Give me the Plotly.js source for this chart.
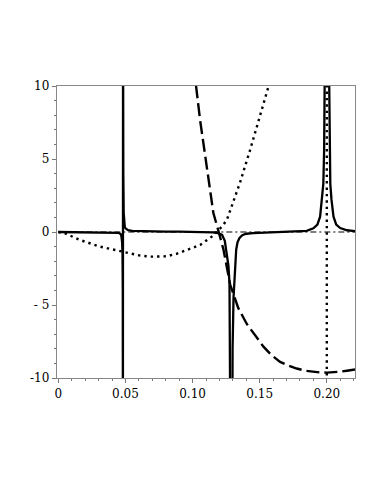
<!DOCTYPE html>
<html>
<head>
<meta charset="utf-8">
<script src="https://cdn.plot.ly/plotly-3.0.1.min.js"></script>
<style>
html,body{margin:0;padding:0;background:#fff;}
#chart{width:382px;height:494px;}
</style>
</head>
<body>
<div id="chart"></div>
<script>
// Solid curve (three poles)
const solidX = [
  0, 0.01, 0.02, 0.03, 0.04, 0.045, 0.0465, 0.047, 0.0475, 0.0478, 0.048, 0.0481,
  0.0482, 0.0484, 0.0487, 0.049, 0.0495, 0.05, 0.052, 0.055, 0.06, 0.07, 0.08, 0.09, 0.1, 0.11, 0.115, 0.119, 0.122, 0.124, 0.1255, 0.1267, 0.1275, 0.1279, 0.1282, null,
  0.1296, 0.1298, 0.1305, 0.1311, 0.1318, 0.1325, 0.1335, 0.135, 0.137, 0.14, 0.145, 0.15, 0.16, 0.17, 0.18, 0.185, 0.19, 0.193, 0.195, 0.1965, 0.1974, 0.198, 0.1984, 0.1988, null,
  0.2012, 0.2016, 0.202, 0.2026, 0.2035, 0.205, 0.207, 0.21, 0.215, 0.221
];
const solidY = [
  0, -0.01, -0.02, -0.03, -0.04, -0.06, -0.15, -0.3, -0.7, -1.5, -4, -15,
  15, 4, 1.3, 0.6, 0.35, 0.25, 0.12, 0.08, 0.06, 0.04, 0.03, 0.02, 0.01, 0, -0.02, -0.08, -0.2, -0.6, -1.4, -2.3, -3.5, -6, -15, null,
  -15, -8, -4.5, -3.3, -1.9, -1.2, -0.7, -0.4, -0.22, -0.12, -0.08, -0.06, -0.05, -0.03, 0.02, 0.08, 0.25, 0.5, 1.05, 2.2, 3.3, 5.6, 10, 15, null,
  15, 10, 5.6, 3.3, 2.2, 1.05, 0.5, 0.27, 0.12, 0.06
];

// Dashed curve
const dashedX = [0.1, 0.1026, 0.1056, 0.1093, 0.1137, 0.1155, 0.1195, 0.123, 0.128, 0.134, 0.1404, 0.1465, 0.1528, 0.159, 0.1652, 0.1715, 0.1776, 0.184, 0.19, 0.195, 0.2, 0.205, 0.21, 0.215, 0.221];
const dashedY = [12.5, 10, 7.67, 5.3, 2.4, 1.3, 0, -1.2, -3.6, -5.2, -6.3, -7.1, -7.85, -8.45, -8.9, -9.15, -9.35, -9.5, -9.57, -9.62, -9.63, -9.62, -9.57, -9.5, -9.42];

// Dotted curve (plus vertical dotted line at x = 0.2)
const dottedX = [0, 0.005, 0.0162, 0.031, 0.0423, 0.052, 0.06, 0.0683, 0.075, 0.0808, 0.088, 0.0957, 0.1056, 0.1143, 0.118, 0.1218, 0.1255, 0.128, 0.1354, 0.1428, 0.1503, 0.1565, 0.158, null, 0.2, 0.2];
const dottedY = [0, -0.09, -0.55, -1.0, -1.23, -1.46, -1.6, -1.69, -1.7, -1.66, -1.5, -1.23, -0.89, -0.32, 0, 0.36, 0.82, 1.5, 3.4, 5.6, 7.9, 9.95, 10.6, null, 10.5, -10.5];

// Dash-dot zero line
const zeroX = [0, 0.221];
const zeroY = [0, 0];

// Tick labels
const xTickVals = [0, 0.05, 0.1, 0.15, 0.2];
const xTickText = ["0", "0.05", "0.10", "0.15", "0.20"];
const yTickVals = [-10, -5, 0, 5, 10];
const yTickText = ["-10", "- 5", "0", "5", "10"];

const traces = [
  {x: zeroX, y: zeroY, mode: 'lines', line: {color: '#000', width: 1.2, dash: '6px,3px,2px,3px'}},
  {x: dottedX, y: dottedY, mode: 'lines', line: {color: '#000', width: 2.4, dash: '2.4px,4px'}, connectgaps: false},
  {x: dashedX, y: dashedY, mode: 'lines', line: {color: '#000', width: 2.4, dash: '13px,5px'}},
  {x: solidX, y: solidY, mode: 'lines', line: {color: '#000', width: 2.3}, connectgaps: false}
];

const axisCommon = {
  showgrid: false, zeroline: false, showline: true, mirror: true,
  linecolor: '#888', linewidth: 1.3,
  ticks: 'outside', ticklen: 4, tickcolor: '#777', tickwidth: 1,
  tickfont: {family: 'DejaVu Serif', size: 12, color: '#000'}
};

const layout = {
  width: 382, height: 494,
  margin: {l: 57, r: 27, t: 86, b: 116, pad: 0},
  paper_bgcolor: '#fff', plot_bgcolor: '#fff',
  showlegend: false,
  xaxis: Object.assign({}, axisCommon, {
    range: [-0.001, 0.221], tickmode: 'array', tickvals: xTickVals, ticktext: xTickText,
    minor: {dtick: 0.01, ticks: 'outside', ticklen: 2, tickcolor: '#777'}
  }),
  yaxis: Object.assign({}, axisCommon, {
    range: [-10, 10], tickmode: 'array', tickvals: yTickVals, ticktext: yTickText,
    minor: {dtick: 1, ticks: 'outside', ticklen: 2, tickcolor: '#777'}
  })
};

Plotly.newPlot('chart', traces, layout, {displayModeBar: false, staticPlot: true});
</script>
</body>
</html>
